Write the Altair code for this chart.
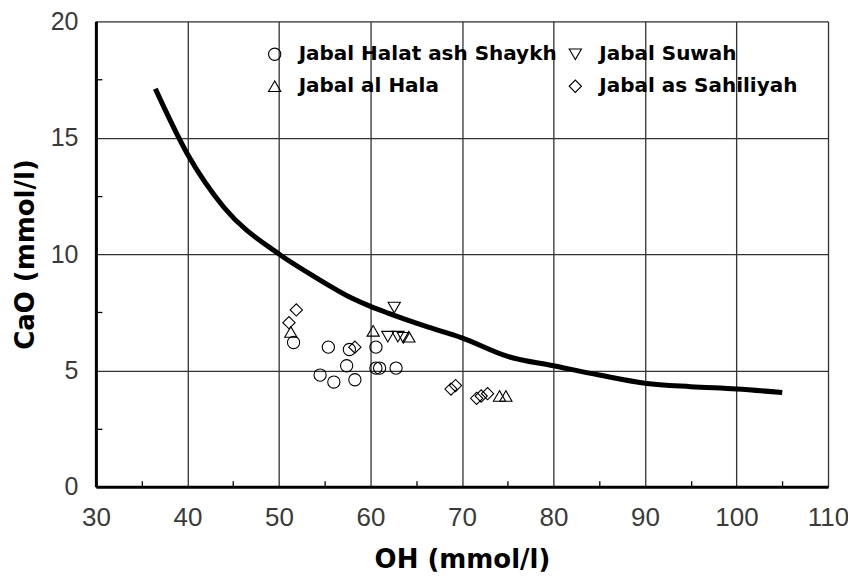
import altair as alt
import pandas as pd

# curve
curve_oh = [36.5, 40, 44, 50, 54, 58, 60, 62, 66, 70, 75, 80, 85, 90, 95, 100, 105]
curve_cao = [17.1, 14.3, 12.0, 10.0, 9.0, 8.1, 7.75, 7.45, 6.9, 6.4, 5.6, 5.2, 4.8, 4.45, 4.3, 4.2, 4.05]

# sites
halat_oh = [51.6, 55.4, 57.7, 54.5, 56.0, 57.4, 58.3, 60.6, 60.6, 61.0, 62.8]
halat_cao = [6.2, 6.0, 5.9, 4.8, 4.5, 5.2, 4.6, 6.0, 5.1, 5.1, 5.1]
hala_oh = [51.3, 60.3, 64.2, 74.1, 74.8]
hala_cao = [6.65, 6.7, 6.45, 3.9, 3.9]
suwah_oh = [62.6, 61.9, 63.0, 63.6]
suwah_cao = [7.7, 6.45, 6.45, 6.4]
sahil_oh = [51.9, 51.1, 58.3, 68.8, 69.3, 71.6, 72.1, 72.8]
sahil_cao = [7.6, 7.05, 6.0, 4.2, 4.35, 3.8, 3.9, 4.0]

sites = ["Jabal Halat ash Shaykh", "Jabal al Hala", "Jabal Suwah", "Jabal as Sahiliyah"]
shapes = ["circle", "triangle-up", "triangle-down", "diamond"]

x_major = [30, 40, 50, 60, 70, 80, 90, 100, 110]
x_minor = [35, 45, 55, 65, 75, 85, 95, 105]
y_major = [0, 5, 10, 15, 20]
y_minor = [2.5, 7.5, 12.5, 17.5]

rows = []
for name, xs, ys in [
    ("Jabal Halat ash Shaykh", halat_oh, halat_cao),
    ("Jabal al Hala", hala_oh, hala_cao),
    ("Jabal Suwah", suwah_oh, suwah_cao),
    ("Jabal as Sahiliyah", sahil_oh, sahil_cao),
]:
    for a, b in zip(xs, ys):
        rows.append({"OH": a, "CaO": b, "site": name})
pts = pd.DataFrame(rows)
curve = pd.DataFrame({"OH": curve_oh, "CaO": curve_cao})

xscale = alt.Scale(domain=[30, 110], nice=False, zero=False)
yscale = alt.Scale(domain=[0, 20], nice=False)

tick_font = "Liberation Sans"
title_font = "DejaVu Sans"

line = alt.Chart(curve).mark_line(color="black", strokeWidth=5, interpolate="monotone").encode(
    x=alt.X("OH:Q", scale=xscale, axis=alt.Axis(
        values=x_major, grid=True, ticks=False, title="OH (mmol/l)",
        labelFont=tick_font, labelFontSize=26, labelColor="#3a3a3a", labelPadding=18,
        titleFont=title_font, titleFontSize=26, titleFontWeight="bold", titleColor="black",
        titlePadding=16, domainColor="black", domainWidth=3, gridColor="#333", gridWidth=1.3,
        orient="bottom", labelFlush=False)),
    y=alt.Y("CaO:Q", scale=yscale, axis=alt.Axis(
        values=y_major, grid=True, ticks=False, title="CaO (mmol/l)",
        labelFont=tick_font, labelFontSize=25, labelColor="#3a3a3a", labelPadding=18,
        titleFont=title_font, titleFontSize=26, titleFontWeight="bold", titleColor="black",
        titlePadding=12, domainColor="black", domainWidth=3, gridColor="#333", gridWidth=1.3,
        orient="left", labelFlush=False)),
)

points = alt.Chart(pts).mark_point(filled=False, color="black", strokeWidth=1.1, size=150, opacity=1).encode(
    x=alt.X("OH:Q", scale=xscale, axis=alt.Axis(
        values=x_minor, grid=False, labels=False, domain=False, ticks=True, tickSize=6,
        tickColor="black", tickWidth=1.3, offset=-6, title=None, orient="bottom")),
    y=alt.Y("CaO:Q", scale=yscale, axis=alt.Axis(
        values=y_minor, grid=False, labels=False, domain=False, ticks=True, tickSize=6,
        tickColor="black", tickWidth=1.3, offset=-6, title=None, orient="left")),
    shape=alt.Shape("site:N", scale=alt.Scale(domain=sites, range=shapes), legend=alt.Legend(
        title=None, orient="none", legendX=169, legendY=23, columns=2, columnPadding=8,
        rowPadding=12, labelFont=title_font, labelFontSize=20, labelFontWeight="bold",
        labelColor="black", symbolSize=150, symbolStrokeColor="black", symbolFillColor="white",
        symbolStrokeWidth=1.1, labelOffset=14, padding=0, labelLimit=400)),
)

chart = alt.layer(line, points).resolve_axis(x="independent", y="independent").properties(
    width=733, height=466,
    autosize=alt.AutoSizeParams(type="none"),
    padding={"left": 88, "top": 13, "right": 20, "bottom": 88},
).configure_view(stroke="black", strokeWidth=2.5).configure(background="white")

chart.save("out.html", embed_options={"renderer": "svg", "actions": False})
